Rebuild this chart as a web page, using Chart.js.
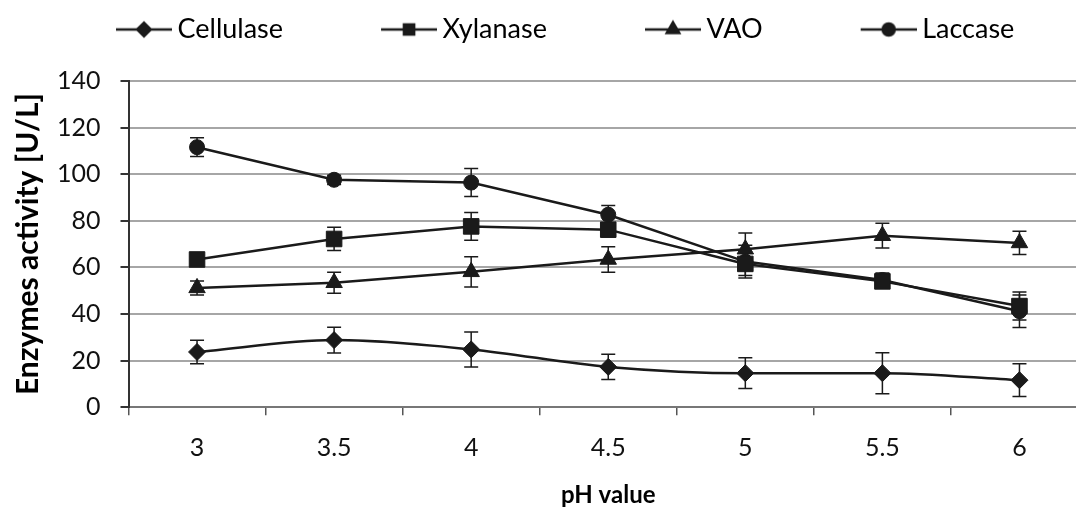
<!DOCTYPE html>
<html>
<head>
<meta charset="utf-8">
<script src="https://cdn.jsdelivr.net/npm/chart.js@4"></script>
<style>
  html, body { margin: 0; padding: 0; background: #fff; overflow: hidden; }
  #wrap { width: 1100px; height: 507px; }
</style>
</head>
<body>
<div id="wrap"><canvas id="enzymeChart" width="1100" height="507"></canvas></div>
<script>
// pH categories
const phLabels = ["3", "3.5", "4", "4.5", "5", "5.5", "6"];

// enzyme activity [U/L] and +/- error
const cellulase = [23.7, 28.8, 24.8, 17.3, 14.6, 14.6, 11.6];
const cellulaseErr = [5, 5.5, 7.5, 5.4, 6.6, 8.8, 7];
const xylanase = [63.4, 72.2, 77.6, 76.2, 61.5, 54, 43.4];
const xylanaseErr = [1.5, 5, 6, 3, 5, 3, 6];
const vao = [51.2, 53.4, 58.1, 63.4, 67.8, 73.6, 70.5];
const vaoErr = [3, 4.5, 6.5, 5.5, 7, 5.3, 5];
const laccase = [111.6, 97.6, 96.4, 82.6, 62.5, 54.6, 41.2];
const laccaseErr = [4, 2, 6, 4, 7, 3, 7];

const ink = "#1a1a1a";
const font = "Lato, 'DejaVu Sans', sans-serif";
const boxW = 136;

// legend symbol: short line with the marker in the middle, spilling 8px past the box
function legendSymbol(style, radius) {
    const c = document.createElement("canvas");
    c.width = boxW + 16;
    c.height = 24;
    const x0 = c.width - 56;
    const ctx = c.getContext("2d");
    ctx.strokeStyle = ink;
    ctx.fillStyle = ink;
    ctx.lineWidth = 2.5;
    ctx.beginPath();
    ctx.moveTo(x0, 12);
    ctx.lineTo(x0 + 56, 12);
    ctx.stroke();
    Chart.helpers.drawPoint(ctx, { pointStyle: style, radius: radius, rotation: 0, borderWidth: 1 }, x0 + 28, 12);
    ctx.fill();
    return c;
}

function series(label, data, err, style, radius, smooth) {
    return {
        label: label,
        data: data,
        errors: err,
        borderColor: ink,
        backgroundColor: ink,
        borderWidth: 2.5,
        pointStyle: style,
        pointRadius: radius,
        pointHoverRadius: radius,
        pointBorderWidth: 1,
        cubicInterpolationMode: smooth ? "monotone" : "default",
        tension: 0,
        legendSymbol: legendSymbol(style, Math.min(radius, 9) * 0.8),
    };
}

// error bars drawn through the chart's own scales
const errorBars = {
    id: "errorBars",
    beforeDatasetsDraw(chart) {
        const ctx = chart.ctx;
        const y = chart.scales.y;
        ctx.save();
        ctx.strokeStyle = ink;
        ctx.lineWidth = 1.5;
        chart.data.datasets.forEach((ds, i) => {
            const meta = chart.getDatasetMeta(i);
            meta.data.forEach((pt, j) => {
                const e = ds.errors[j];
                const top = y.getPixelForValue(ds.data[j] + e);
                const bot = y.getPixelForValue(ds.data[j] - e);
                ctx.beginPath();
                ctx.moveTo(pt.x, top);
                ctx.lineTo(pt.x, bot);
                ctx.moveTo(pt.x - 7, top);
                ctx.lineTo(pt.x + 7, top);
                ctx.moveTo(pt.x - 7, bot);
                ctx.lineTo(pt.x + 7, bot);
                ctx.stroke();
            });
        });
        ctx.restore();
    },
};

// extra room under the legend
const legendGap = {
    id: "legendGap",
    beforeInit(chart) {
        const fit = chart.legend.fit;
        chart.legend.fit = function () {
            fit.bind(chart.legend)();
            this.height += 28;
        };
    },
};

const enzymeChart = new Chart(document.getElementById("enzymeChart"), {
    type: "line",
    data: {
        labels: phLabels,
        datasets: [
            series("Cellulase", cellulase, cellulaseErr, "rectRot", 8.5, true),
            series("Xylanase", xylanase, xylanaseErr, "rect", 11, false),
            series("VAO", vao, vaoErr, "triangle", 9.5, false),
            series("Laccase", laccase, laccaseErr, "circle", 7.5, false),
        ],
    },
    options: {
        responsive: false,
        animation: false,
        layout: { padding: { left: 18, right: 0, top: 6, bottom: 0 } },
        plugins: {
            tooltip: { enabled: false },
            legend: {
                display: true,
                position: "top",
                align: "start",
                labels: {
                    usePointStyle: true,
                    pointStyleWidth: boxW,
                    padding: 10,
                    color: "#000",
                    font: { family: font, size: 27 },
                    generateLabels(chart) {
                        const items = Chart.defaults.plugins.legend.labels.generateLabels(chart);
                        items.forEach((it) => {
                            it.pointStyle = chart.data.datasets[it.datasetIndex].legendSymbol;
                        });
                        return items;
                    },
                },
            },
        },
        scales: {
            x: {
                offset: true,
                grid: {
                    offset: true,
                    drawOnChartArea: false,
                    tickLength: 8,
                    tickColor: "#555",
                    lineWidth: 1.5,
                },
                border: { color: "#777", width: 2 },
                ticks: { color: "#111", padding: 18, font: { family: font, size: 25 } },
                title: {
                    display: true,
                    text: "pH value",
                    color: "#000",
                    padding: { top: 0, bottom: -3 },
                    font: { family: font, size: 24, weight: "bold" },
                },
            },
            y: {
                min: 0,
                max: 140,
                ticks: { stepSize: 20, color: "#111", padding: 20, font: { family: font, size: 25 } },
                grid: {
                    color: "#a6a6a6",
                    lineWidth: 2,
                    tickLength: 8,
                    tickColor: "#333",
                },
                border: { color: "#333", width: 2 },
                title: {
                    display: true,
                    text: "Enzymes activity [U/L]",
                    color: "#000",
                    padding: { top: -8, bottom: -9 },
                    font: { family: font, size: 30, weight: "bold" },
                },
            },
        },
    },
    plugins: [errorBars, legendGap],
});
</script>
</body>
</html>
